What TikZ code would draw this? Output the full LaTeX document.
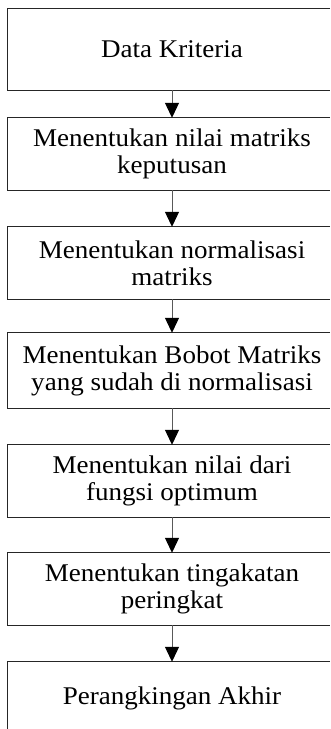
\documentclass[tikz,border=0pt]{standalone}
\usepackage{fontspec}
\setmainfont[FakeStretch=1.06]{Liberation Serif}
\usetikzlibrary{arrows.meta}
\tikzset{
  stepbox/.style={rectangle, minimum width=328pt, inner sep=0pt, align=center,
    font=\fontsize{25.5pt}{27pt}\selectfont},
  boxline/.style={draw=black!85, line width=1pt},
  flowarr/.style={draw=black!65, line width=1pt, -{Triangle[width=14pt,length=15pt,color=black]}}
}
\begin{document}
\begin{tikzpicture}[x=1pt,y=-1pt]
\useasboundingbox (0,0) rectangle (330,729);
\node[stepbox, minimum height=81pt] (b1) at (172,49.5) {Data Kriteria};
\node[stepbox, minimum height=72pt] (b2) at (172,154) {Menentukan nilai matriks\\keputusan};
\node[stepbox, minimum height=72pt] (b3) at (172,263) {Menentukan normalisasi\\matriks};
\node[stepbox, minimum height=75pt] (b4) at (172,370.5) {Menentukan Bobot Matriks\\yang sudah di normalisasi};
\node[stepbox, minimum height=72pt] (b5) at (172,481) {Menentukan nilai dari\\fungsi optimum};
\node[stepbox, minimum height=72pt] (b6) at (172,589) {Menentukan tingakatan\\peringkat};
\node[stepbox, minimum height=72pt] (b7) at (172,698) {Perangkingan Akhir};
\foreach \n in {b1,b2,b3,b4,b5,b6}
  \draw[boxline] ([xshift=-6pt]\n.north east) -- (\n.north west) -- (\n.south west) -- ([xshift=-6pt]\n.south east);
\draw[boxline] ([xshift=-6pt]b7.north east) -- (b7.north west) -- ([yshift=-5pt]b7.west |- 0,729);
\draw[flowarr] (b1.south) -- (b2.north);
\draw[flowarr] (b2.south) -- (b3.north);
\draw[flowarr] (b3.south) -- (b4.north);
\draw[flowarr] (b4.south) -- (b5.north);
\draw[flowarr] (b5.south) -- (b6.north);
\draw[flowarr] (b6.south) -- (b7.north);
\end{tikzpicture}
\end{document}
